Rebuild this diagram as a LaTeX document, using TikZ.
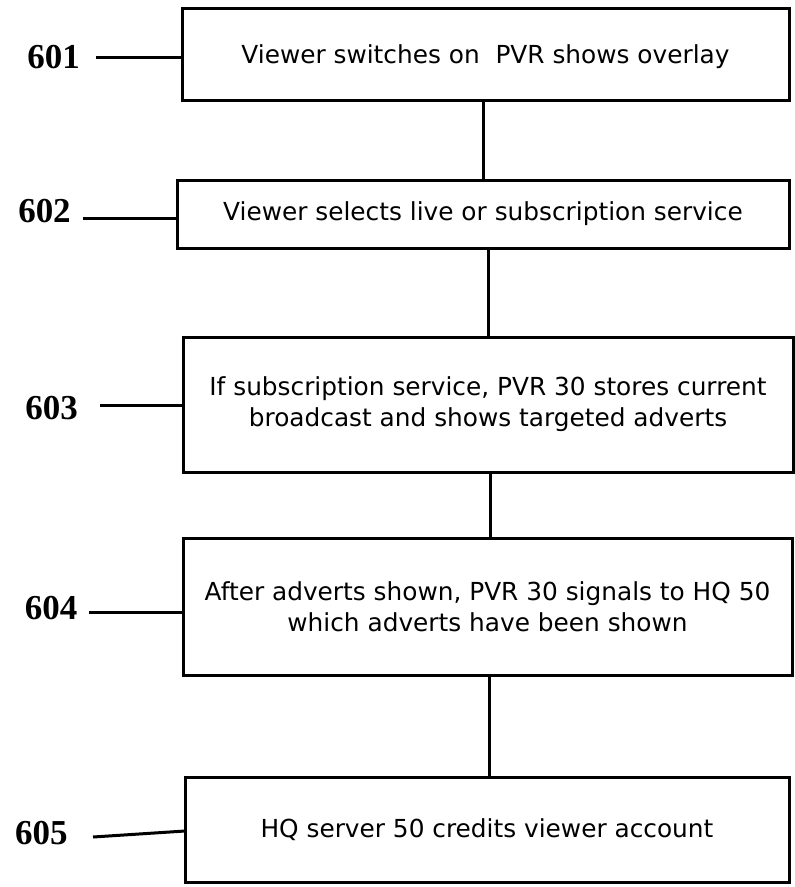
\documentclass[tikz,border=0pt]{standalone}
\usepackage{fontspec}
\setmainfont{DejaVu Sans}
\newfontfamily\labelfont{Liberation Serif}
\begin{document}
\begin{tikzpicture}[x=1pt,y=-1pt,
  stepbox/.style={draw=black, line width=3pt, inner sep=0pt, align=center,
    font=\fontsize{24.8}{31}\selectfont},
  reflabel/.style={inner sep=0pt, font=\labelfont\bfseries\fontsize{35}{40}\selectfont},
  conn/.style={line width=3pt, line cap=butt}]
\useasboundingbox (0,0) rectangle (795,887);
% boxes
\node[stepbox, minimum width=607pt, minimum height=92pt, text depth=0pt] (b1) at (485.5,54)
  {Viewer switches on\ \ PVR shows overlay};
\node[stepbox, minimum width=612pt, minimum height=68pt] (b2) at (483,214)
  {Viewer selects live or subscription service};
\node[stepbox, minimum width=610pt, minimum height=135pt] (b3) at (488,404.5)
  {If subscription service, PVR 30 stores current\\broadcast and shows targeted adverts};
\node[stepbox, minimum width=609pt, minimum height=137pt] (b4) at (487.5,606.5)
  {After adverts shown, PVR 30 signals to HQ 50\\which adverts have been shown};
\node[stepbox, minimum width=604pt, minimum height=105pt] (b5) at (487,829.5)
  {HQ server 50 credits viewer account};
% connectors between boxes
\coordinate (x12) at (483,0);
\coordinate (x23) at (488,0);
\coordinate (x34) at (490,0);
\coordinate (x45) at (489,0);
\draw[conn] (b1.south -| x12) -- (b2.north -| x12);
\draw[conn] (b2.south -| x23) -- (b3.north -| x23);
\draw[conn] (b3.south -| x34) -- (b4.north -| x34);
\draw[conn] (b4.south -| x45) -- (b5.north -| x45);
% reference labels
\node[reflabel] (l601) at (53.5,57) {601};
\node[reflabel] (l602) at (44.5,211) {602};
\node[reflabel] (l603) at (51.5,408) {603};
\node[reflabel] (l604) at (51,608) {604};
\node[reflabel] (l605) at (41.5,833) {605};
\coordinate (s601) at (96,57);
\coordinate (s602) at (83,218);
\coordinate (s603) at (100,405);
\coordinate (s604) at (89,612);
\coordinate (s605) at (93,837);
\coordinate (e605) at (185,831);
\draw[conn] (s601) -- (s601 -| b1.west);
\draw[conn] (s602) -- (s602 -| b2.west);
\draw[conn] (s603) -- (s603 -| b3.west);
\draw[conn] (s604) -- (s604 -| b4.west);
\draw[conn] (s605) -- (e605);
\end{tikzpicture}
\end{document}
